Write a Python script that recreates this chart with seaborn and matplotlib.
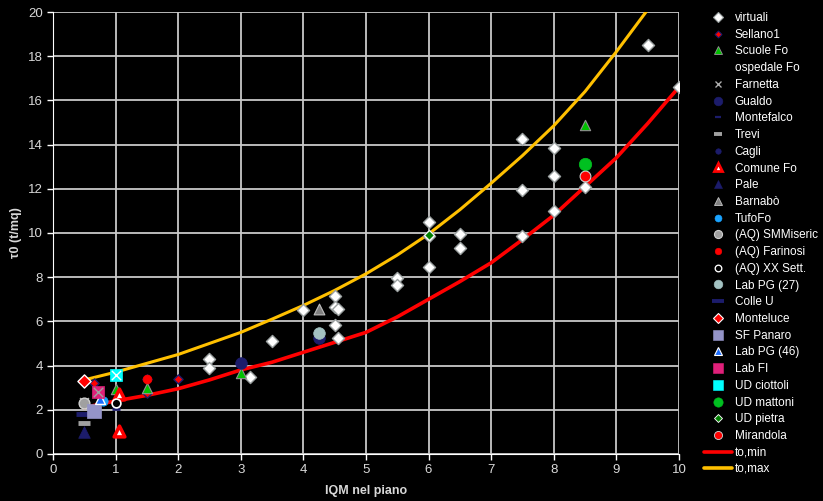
import numpy as np
import pandas as pd
import matplotlib
matplotlib.use("Agg")
import matplotlib.pyplot as plt
import seaborn as sns
from matplotlib.lines import Line2D

# curves
curve_x = [0.5, 1.0, 1.5, 2.0, 2.5, 3.0, 3.5, 4.0, 4.5, 5.0, 5.5, 6.0, 6.5, 7.0, 7.5, 8.0, 8.5, 9.0, 9.5, 10.0]
to_min = [2.1, 2.4, 2.65, 2.95, 3.35, 3.8, 4.15, 4.6, 5.05, 5.5, 6.2, 7.0, 7.8, 8.65, 9.7, 10.8, 12.1, 13.4, 14.95, 16.6]
to_max = [3.35, 3.7, 4.1, 4.5, 5.0, 5.5, 6.1, 6.72, 7.4, 8.15, 9.0, 9.95, 11.05, 12.25, 13.5, 14.85, 16.4, 18.2, 20.1, np.nan]

# series: name -> x, y
virt_x = [2.5, 2.5, 3.15, 3.5, 4.0, 4.5, 4.5, 4.55, 4.5, 4.55, 5.5, 5.5, 6.0, 6.0, 6.0, 6.5, 6.5,
          7.5, 7.5, 7.5, 8.0, 8.0, 8.0, 8.5, 9.5, 10.0]
virt_y = [4.3, 3.9, 3.5, 5.1, 6.5, 7.15, 6.65, 6.55, 5.85, 5.25, 7.95, 7.65, 10.5, 9.85, 8.45, 9.95, 9.3,
          14.25, 11.95, 9.85, 13.85, 12.6, 11.0, 12.1, 18.5, 16.6]
sellano_x, sellano_y = [0.65, 1.5, 1.5, 2.0], [3.2, 3.4, 2.75, 3.4]
scuole_x, scuole_y = [1.0, 1.5, 3.0, 8.5], [2.95, 3.0, 3.65, 14.9]
farnetta_x, farnetta_y = [0.5], [2.35]
gualdo_x, gualdo_y = [3.0, 4.25], [4.1, 5.25]
montefalco_x, montefalco_y = [1.0], [2.05]
trevi_x, trevi_y = [0.5], [1.4]
cagli_x, cagli_y = [1.0], [2.2]
comune_x, comune_y = [1.05, 1.05], [1.05, 2.7]
pale_x, pale_y = [0.5], [1.0]
barnabo_x, barnabo_y = [4.25], [6.55]
tufo_x, tufo_y = [0.8], [2.4]
smm_x, smm_y = [0.5], [2.3]
farinosi_x, farinosi_y = [1.5], [3.4]
xxsett_x, xxsett_y = [1.0], [2.3]
labpg27_x, labpg27_y = [4.25], [5.45]
colleu_x, colleu_y = [0.5], [1.8]
monteluce_x, monteluce_y = [0.5], [3.28]
panaro_x, panaro_y = [0.65], [1.95]
labpg46_x, labpg46_y = [0.75], [2.5]
labfi_x, labfi_y = [0.72], [2.8]
ciottoli_x, ciottoli_y = [1.0], [3.55]
mattoni_x, mattoni_y = [8.5], [13.1]
pietra_x, pietra_y = [6.0], [9.9]
mirandola_x, mirandola_y = [8.5], [12.6]

sns.set_style("dark")
plt.rcParams['font.family'] = ['Liberation Sans', 'DejaVu Sans']

fig = plt.figure(figsize=(8.23, 5.01), dpi=100, facecolor='black')
ax = fig.add_axes([0.0644, 0.094, 0.7605, 0.882])
ax.set_facecolor('black')

navy = '#1c1c6b'
# (label, x, y, marker, size, face, edge, lw)
series = [
    ("virtuali", virt_x, virt_y, 'D', 38, 'white', '#9aa0a0', 1.0),
    ("Sellano1", sellano_x, sellano_y, 'D', 22, 'red', navy, 1.0),
    ("Scuole Fo", scuole_x, scuole_y, '^', 55, '#00c000', '#909090', 0.8),
    ("ospedale Fo", None, None, None, 0, None, None, 0),
    ("Farnetta", farnetta_x, farnetta_y, 'x', 40, '#b0b0b0', '#b0b0b0', 1.2),
    ("Gualdo", gualdo_x, gualdo_y, 'o', 70, navy, navy, 0.5),
    ("Montefalco", montefalco_x, montefalco_y, '_', 40, navy, navy, 2.0),
    ("Trevi", trevi_x, trevi_y, '_', 70, '#a0a0a0', '#a0a0a0', 3.5),
    ("Cagli", cagli_x, cagli_y, 'o', 28, navy, navy, 0.5),
    ("Comune Fo", comune_x, comune_y, '^', 60, 'white', 'red', 2.5),
    ("Pale", pale_x, pale_y, '^', 70, navy, navy, 0.5),
    ("Barnabò", barnabo_x, barnabo_y, '^', 60, '#808080', '#c0c0c0', 0.8),
    ("TufoFo", tufo_x, tufo_y, 'o', 45, '#1aa3ff', '#1aa3ff', 0.5),
    ("(AQ) SMMiseric", smm_x, smm_y, 'o', 60, '#a0a0a0', '#d0d0d0', 1.0),
    ("(AQ) Farinosi", farinosi_x, farinosi_y, 'o', 40, 'red', 'red', 0.5),
    ("(AQ) XX Sett.", xxsett_x, xxsett_y, 'o', 40, 'black', 'white', 1.2),
    ("Lab PG (27)", labpg27_x, labpg27_y, 'o', 70, '#a3c2c2', '#a3c2c2', 0.5),
    ("Colle U", colleu_x, colleu_y, '_', 120, navy, navy, 3.5),
    ("Monteluce", monteluce_x, monteluce_y, 'D', 45, 'red', 'white', 1.0),
    ("SF Panaro", panaro_x, panaro_y, 's', 90, '#9494c8', '#9494c8', 0.5),
    ("Lab PG (46)", labpg46_x, labpg46_y, '^', 50, '#1a6cff', 'white', 1.0),
    ("Lab FI", labfi_x, labfi_y, 's', 85, '#e0207a', '#e0207a', 0.5),
    ("UD ciottoli", ciottoli_x, ciottoli_y, 's', 85, '#00ffff', '#00ffff', 0.5),
    ("UD mattoni", mattoni_x, mattoni_y, 'o', 80, '#00c020', '#00c020', 0.5),
    ("UD pietra", pietra_x, pietra_y, 'D', 25, '#008000', 'white', 0.8),
    ("Mirandola", mirandola_x, mirandola_y, 'o', 60, 'red', '#d0d0d0', 0.8),
]

curves = pd.DataFrame({"x": curve_x, "min": to_min, "max": to_max})
sns.lineplot(data=curves, x="x", y="min", color='red', lw=2.6, ax=ax, zorder=2)
sns.lineplot(data=curves, x="x", y="max", color='#ffc000', lw=2.2, ax=ax, zorder=2)

handles = []
for label, xs, ys, mk, s, fc, ec, lw in series:
    if xs is None:
        handles.append(Line2D([], [], linestyle='none', marker='None', label=label))
        continue
    sns.scatterplot(x=xs, y=ys, marker=mk, s=s, color=fc, edgecolor=ec, linewidth=lw,
                    ax=ax, zorder=3, legend=False)
    handles.append(Line2D([], [], linestyle='none', marker=mk, markersize=np.sqrt(s) * 0.75,
                          markerfacecolor=fc, markeredgecolor=ec, markeredgewidth=lw * 0.8,
                          color=fc, label=label))

# crosses on Lab FI and UD ciottoli
sns.scatterplot(x=labfi_x, y=labfi_y, marker='x', s=45, color='#a0a0a0', linewidth=1.0, ax=ax, zorder=4, legend=False)
sns.scatterplot(x=ciottoli_x, y=ciottoli_y, marker='x', s=45, color='white', linewidth=1.0, ax=ax, zorder=4, legend=False)

handles.append(Line2D([], [], color='red', lw=2.6, label='to,min'))
handles.append(Line2D([], [], color='#ffc000', lw=2.6, label='to,max'))

ax.set_xlim(0, 10)
ax.set_ylim(0, 20)
ax.set_xticks(range(0, 11))
ax.set_yticks(range(0, 21, 2))
ax.grid(True, color='#c8c8c8', lw=1.3)
ax.set_axisbelow(True)
for sp in ax.spines.values():
    sp.set_visible(False)
ax.spines['left'].set_visible(True)
ax.spines['bottom'].set_visible(True)
ax.spines['left'].set_color('white')
ax.spines['bottom'].set_color('white')
ax.tick_params(colors='#d8d8d8', labelsize=9.5, length=4, width=1, direction='out',
               left=True, bottom=True, color='white')
ax.set_xlabel('IQM nel piano', color='#d8d8d8', fontsize=9, fontweight='bold', labelpad=6)
ax.set_ylabel('τ0 (t/mq)', color='#d8d8d8', fontsize=9, fontweight='bold', labelpad=4)

leg = ax.legend(handles=handles, loc='upper left', bbox_to_anchor=(1.04, 1.0), frameon=False,
                fontsize=8.5, labelspacing=0.4, handlelength=2.4, handletextpad=0.2,
                borderaxespad=0, borderpad=0)
for t in leg.get_texts():
    t.set_color('white')

fig.savefig("out.png", dpi=100, facecolor='black')
